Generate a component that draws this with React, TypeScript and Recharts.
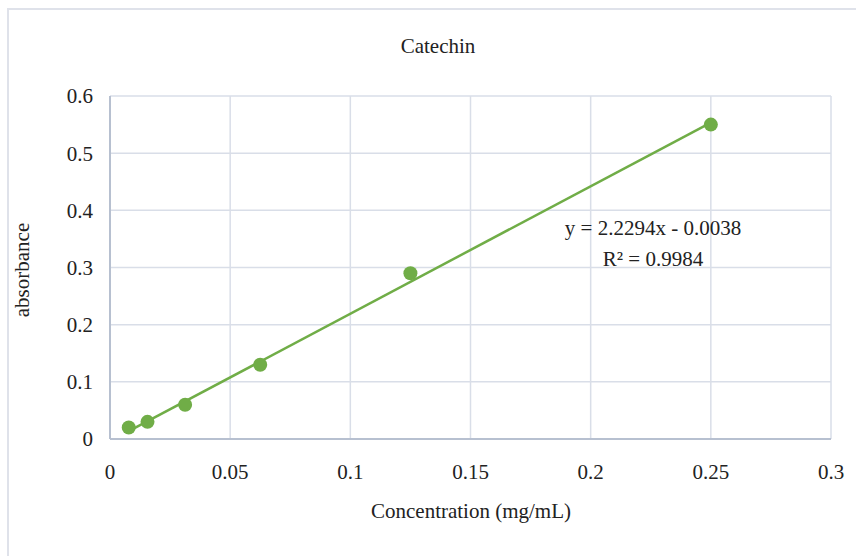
import { CartesianGrid, ReferenceLine, Scatter, ScatterChart, XAxis, YAxis } from "recharts";

const concentration = [0.0078, 0.0156, 0.03125, 0.0625, 0.125, 0.25];
const absorbance = [0.02, 0.03, 0.06, 0.13, 0.29, 0.55];
const xTicks = [0, 0.05, 0.1, 0.15, 0.2, 0.25, 0.3];
const yTicks = [0, 0.1, 0.2, 0.3, 0.4, 0.5, 0.6];
// trendline ends
const trendX = [0.0078, 0.25];
const trendY = [0.0136, 0.5536];

const green = "#70ad47";
const font = "Liberation Serif, serif";

const points = concentration.map((x, i) => ({ x, y: absorbance[i] }));

export default function App() {
  const textStyle = (left: number, top: number, size = 21): React.CSSProperties => ({
    position: "absolute",
    left,
    top,
    transform: "translate(-50%, -50%)",
    fontFamily: font,
    fontSize: size,
    color: "#222",
    whiteSpace: "nowrap",
    lineHeight: 1,
  });

  return (
    <div style={{ position: "absolute", left: 0, top: 0, width: 856, height: 556, background: "#fff", fontFamily: font }}>
      <div style={{ position: "absolute", left: 7, top: 8, width: 860, height: 560, border: "2px solid #dfe2ea" }} />
      <ScatterChart
        width={856}
        height={556}
        margin={{ top: 96, right: 25, bottom: 77, left: 50 }}
        style={{ position: "absolute", left: 0, top: 0, fontFamily: font }}
      >
        <CartesianGrid stroke="#d9dee8" strokeWidth={1.5} />
        <XAxis
          type="number"
          dataKey="x"
          domain={[0, 0.3]}
          ticks={xTicks}
          height={40}
          tickLine={false}
          tickSize={0}
          tickMargin={25}
          axisLine={{ stroke: "#b7c0d0", strokeWidth: 2 }}
          tick={{ fill: "#222", fontSize: 21, fontFamily: font }}
        />
        <YAxis
          type="number"
          dataKey="y"
          domain={[0, 0.6]}
          ticks={yTicks}
          width={60}
          tickLine={false}
          tickSize={0}
          tickMargin={17}
          axisLine={{ stroke: "#b7c0d0", strokeWidth: 2 }}
          tick={{ fill: "#222", fontSize: 21, fontFamily: font }}
        />
        <Scatter data={points} fill={green} isAnimationActive={false} shape={(p: any) => <circle cx={p.cx} cy={p.cy} r={7} fill={green} />} />
        <ReferenceLine
          segment={[
            { x: trendX[0], y: trendY[0] },
            { x: trendX[1], y: trendY[1] },
          ]}
          stroke={green}
          strokeWidth={2.5}
          ifOverflow="visible"
        />
      </ScatterChart>
      <div style={textStyle(438, 46, 21)}>Catechin</div>
      <div style={textStyle(471, 511, 21)}>Concentration (mg/mL)</div>
      <div style={{ ...textStyle(22, 270, 21), transform: "translate(-50%, -50%) rotate(-90deg)" }}>absorbance</div>
      <div style={textStyle(653, 228, 21)}>y = 2.2294x - 0.0038</div>
      <div style={textStyle(653, 259, 21)}>
        R² = 0.9984
      </div>
    </div>
  );
}
